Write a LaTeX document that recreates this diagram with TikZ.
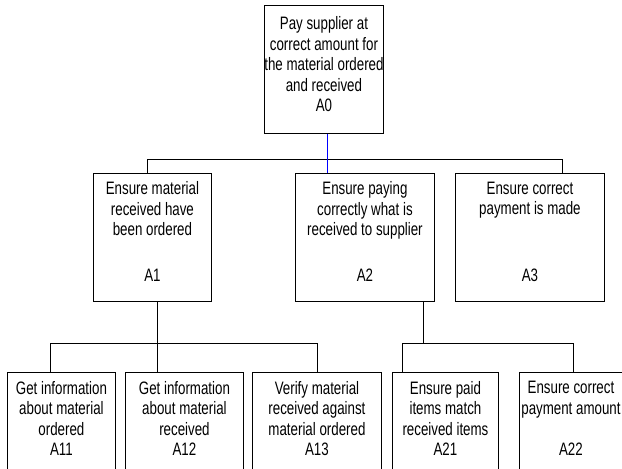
\documentclass[tikz,border=0pt]{standalone}
\usepackage{fontspec}
\setmainfont{Liberation Sans}[FakeStretch=0.74]

\begin{document}
\begin{tikzpicture}[
		x=1pt, y=-1pt,
		line width=0.9pt,
		box/.style={draw, inner sep=0pt, anchor=north west},
		txt/.style={align=center, inner sep=0pt, anchor=north,
			font=\fontsize{18}{20.5}\selectfont},
		tag/.style={inner sep=0pt, font=\fontsize{18}{20.5}\selectfont},
		link/.style={draw, line width=0.9pt},
		feed/.style={draw, line width=0.9pt, color=blue}
	]

	\fill[white] (0,0) rectangle (622,469);
	\useasboundingbox (0,0) rectangle (622,469);

	\def\rowA{173}
	\def\rowB{372}

	%% level 0
	\node[box, minimum width=119pt, minimum height=128pt] (a0) at (264,5) {};
	\node[txt] (a0t) at ([yshift=-11.5pt]a0.north)
		{Pay supplier at\\correct amount for\\the material ordered\\and received\\A0};

	%% level 1
	\node[box, minimum width=118pt, minimum height=128pt] (a1) at (93,\rowA) {};
	\node[box, minimum width=139pt, minimum height=128pt] (a2) at (295,\rowA) {};
	\node[box, minimum width=149pt, minimum height=128pt] (a3) at (455,\rowA) {};

	\node[txt] (a1t) at ([yshift=-8.5pt]a1.north)
		{Ensure material\\received have\\been ordered};
	\node[txt] (a2t) at ([yshift=-8.5pt]a2.north)
		{Ensure paying\\correctly what is\\received to supplier};
	\node[txt] (a3t) at ([yshift=-8.5pt]a3.north)
		{Ensure correct\\payment is made};

	\node[tag] (a1id) at ([yshift=-102pt]a1.north) {A1};
	\node[tag] (a2id) at ([yshift=-102pt]a2.north) {A2};
	\node[tag] (a3id) at ([yshift=-102pt]a3.north) {A3};

	%% level 2 (boxes run past the lower edge)
	\node[box, minimum width=108pt, minimum height=110pt] (a11) at (7,\rowB) {};
	\node[box, minimum width=118pt, minimum height=110pt] (a12) at (125,\rowB) {};
	\node[box, minimum width=129pt, minimum height=110pt] (a13) at (252,\rowB) {};
	\node[box, minimum width=106pt, minimum height=110pt] (a21) at (392,\rowB) {};
	\node[box, minimum width=110pt, minimum height=110pt] (a22) at (519,\rowB) {};

	\node[txt] (a11t) at ([yshift=-9pt]a11.north)
		{Get information\\about material\\ordered\\A11};
	\node[txt] (a12t) at ([yshift=-9pt]a12.north)
		{Get information\\about material\\received\\A12};
	\node[txt] (a13t) at ([yshift=-9pt]a13.north)
		{Verify material\\received against\\material ordered\\A13};
	\node[txt] (a21t) at ([yshift=-9pt]a21.north)
		{Ensure paid\\items match\\received items\\A21};
	\node[txt] (a22t) at ([xshift=-3.5pt, yshift=-9pt]a22.north)
		{Ensure correct\\payment amount\\[20.5pt]A22};

	%% connectors, level 0 -> 1
	\coordinate (bar0w) at (147,159);
	\coordinate (bar0e) at (562,159);
	\coordinate (feed0) at (327,159);
	\draw[link] (a1.north -| bar0w) -- (bar0w) -- (bar0e) -- (a3.north -| bar0e);
	\draw[feed] (a0.south -| feed0) -- (a2.north -| feed0);

	%% connectors, level 1 -> 2
	\coordinate (bar1w) at (50,343);
	\coordinate (bar1e) at (317,343);
	\coordinate (feed1) at (157,343);
	\draw[link] (a11.north -| bar1w) -- (bar1w) -- (bar1e) -- (a13.north -| bar1e);
	\draw[link] (a1.south -| feed1) -- (a12.north -| feed1);

	\coordinate (bar2w) at (402,343);
	\coordinate (bar2e) at (573,343);
	\coordinate (feed2) at (423,343);
	\draw[link] (a21.north -| bar2w) -- (bar2w) -- (bar2e) -- (a22.north -| bar2e);
	\draw[link] (a2.south -| feed2) -- (feed2);

\end{tikzpicture}
\end{document}
